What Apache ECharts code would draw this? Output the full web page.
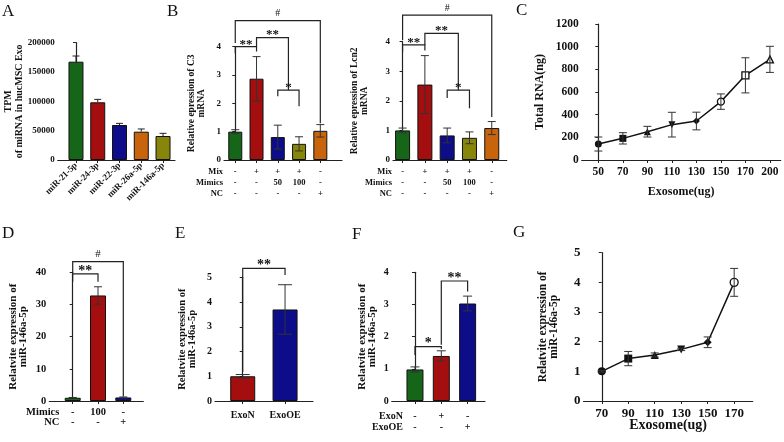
<!DOCTYPE html>
<html>
<head>
<meta charset="utf-8">
<script src="https://cdn.jsdelivr.net/npm/echarts@6/dist/echarts.min.js"></script>
<style>
  html, body { margin: 0; padding: 0; background: #fff; }
  #main { width: 784px; height: 442px; }
</style>
</head>
<body>
<div id="main"></div>
<script>
// ---- data ----
// A
const aCats = ['miR-21-5p', 'miR-24-3p', 'miR-22-3p', 'miR-26a-5p', 'miR-146a-5p'];
const aMean = [167600, 98400, 59700, 48300, 40900];
const aSd = [9700, 5000, 2800, 4600, 4600];
// B
const bMix = ['-', '+', '+', '+', '-'];
const bMimics = ['-', '-', '50', '100', '-'];
const bNC = ['-', '-', '-', '-', '+'];
const c3Mean = [1.0, 2.87, 0.81, 0.57, 1.03];
const c3Sd = [0.07, 0.78, 0.42, 0.25, 0.22];
const lcn2Mean = [1.0, 2.55, 0.83, 0.75, 1.08];
const lcn2Sd = [0.08, 0.98, 0.25, 0.2, 0.22];
// C
const cDose = ['50', '70', '90', '110', '130', '150', '170', '200'];
const cRna = [141, 191, 250, 312, 344, 515, 747, 888];
const cSd = [62, 50, 47, 109, 78, 68, 155, 115];
// D
const dMimics = ['-', '100', '-'];
const dNC = ['-', '-', '+'];
const dMean = [1.0, 32.8, 1.1];
const dSd = [0.1, 2.7, 0.15];
// E
const eCats = ['ExoN', 'ExoOE'];
const eMean = [1.0, 3.7];
const eSd = [0.07, 1.0];
// F
const fExoN = ['-', '+', '-'];
const fExoOE = ['-', '-', '+'];
const fMean = [0.98, 1.4, 3.03];
const fSd = [0.08, 0.16, 0.23];
// G
const gDose = ['70', '90', '110', '130', '150', '170'];
const gMean = [1.0, 1.43, 1.55, 1.74, 1.98, 4.0];
const gSd = [0.03, 0.24, 0.07, 0.04, 0.18, 0.47];

// significance brackets: [x1, x2, top, leftEnd, rightEnd, text]
const c3Brackets = [
  [0, 4, 4.92, 4.13, 1.3, '#'],
  [0, 1, 4.0, 3.77, 3.83, '**'],
  [1, 2.5, 4.32, 4.0, 2.47, '**'],
  [2, 3, 2.47, 2.25, 1.9, '*']
];
const lcn2Brackets = [
  [0, 4, 4.9, 4.05, 1.45, '#'],
  [0, 1, 3.89, 3.65, 3.7, '**'],
  [1, 2.5, 4.28, 3.89, 2.36, '**'],
  [2, 3, 2.36, 2.1, 1.75, '*']
];
const dBrackets = [
  [0, 2, 43.3, 39.8, 1.4, '#'],
  [0, 1, 39.5, 37.1, 37.1, '**']
];
const eBrackets = [[0, 1, 5.36, 1.18, 5.09, '**']];
const fBrackets = [
  [0, 1, 1.69, 1.43, 1.62, '*'],
  [1, 2, 3.73, 1.75, 3.4, '**']
];

const colA = ['#16661a', '#a50e0e', '#0d0d8a', '#c8650c', '#87850a'];
const colB = ['#16661a', '#a50e0e', '#0d0d8a', '#87850a', '#c8650c'];
const FONT = '"Liberation Serif", "Times New Roman", serif';

const chart = echarts.init(document.getElementById('main'), null, { renderer: 'canvas' });

const grids = [], xAxes = [], yAxes = [], series = [];

function panel(box, x, y) {
  const idx = grids.length;
  grids.push({ left: box[0], top: box[1], width: box[2], height: box[3], containLabel: false });
  const ticks = x.labels.map((_, i) => i);
  xAxes.push(Object.assign({
    type: 'value', gridIndex: idx, min: x.min, max: x.max,
    nameMoveOverlap: false,
    splitLine: { show: false },
    axisLine: { lineStyle: { color: '#222', width: 1.2 } },
    axisTick: { customValues: ticks, length: 3, lineStyle: { color: '#222' } },
    axisLabel: {
      customValues: ticks, margin: x.margin, rotate: x.rotate || 0,
      fontFamily: FONT, fontWeight: 'bold', fontSize: x.fs, color: '#111',
      lineHeight: x.lh || x.fs,
      formatter: v => x.labels[Math.round(v)]
    }
  }, x.extra || {}));
  yAxes.push({
    type: 'value', gridIndex: idx, min: 0, max: y.max, interval: y.interval,
    nameMoveOverlap: false,
    splitLine: { show: false },
    axisLine: { show: true, lineStyle: { color: '#222', width: 1.2 } },
    axisTick: { show: true, length: 3, lineStyle: { color: '#222' } },
    axisLabel: { fontFamily: FONT, fontWeight: 'bold', fontSize: y.fs, color: '#111', margin: 3, formatter: v => String(v) },
    name: y.name, nameLocation: 'middle', nameGap: y.gap,
    nameTextStyle: { fontFamily: FONT, fontWeight: 'bold', fontSize: y.nfs, color: '#111', lineHeight: y.nlh }
  });
  return idx;
}

function bars(idx, mean, colors, width) {
  series.push({
    type: 'bar', xAxisIndex: idx, yAxisIndex: idx, barWidth: width,
    data: mean.map((v, i) => ({ value: [i, v], itemStyle: { color: colors[i] } })),
    itemStyle: { borderColor: '#111', borderWidth: 1 },
    silent: true
  });
}

// error bars: mean +/- sd (or mean + sd only)
function errors(idx, mean, sd, cap, upOnly, color) {
  series.push({
    type: 'custom', xAxisIndex: idx, yAxisIndex: idx, z: 5, silent: true, clip: false,
    data: mean.map((v, i) => [i, v]),
    renderItem(params, api) {
      const i = params.dataIndex;
      const m = mean[i], s = sd[i];
      const top = api.coord([i, m + s]);
      const bot = api.coord([i, upOnly ? m : m - s]);
      const w = cap / 2;
      const st = { stroke: color || '#222', lineWidth: 1 };
      const kids = [
        { type: 'line', shape: { x1: top[0], y1: top[1], x2: bot[0], y2: bot[1] }, style: st },
        { type: 'line', shape: { x1: top[0] - w, y1: top[1], x2: top[0] + w, y2: top[1] }, style: st }
      ];
      if (!upOnly) kids.push({ type: 'line', shape: { x1: bot[0] - w, y1: bot[1], x2: bot[0] + w, y2: bot[1] }, style: st });
      return { type: 'group', children: kids };
    }
  });
}

function brackets(idx, list, fs) {
  series.push({
    type: 'custom', xAxisIndex: idx, yAxisIndex: idx, z: 6, silent: true, clip: false,
    data: list.map(b => [b[0], b[2]]),
    renderItem(params, api) {
      const b = list[params.dataIndex];
      const pL = api.coord([b[0], b[2]]), pR = api.coord([b[1], b[2]]);
      const pLb = api.coord([b[0], b[3]]), pRb = api.coord([b[1], b[4]]);
      const star = b[5] !== '#';
      return {
        type: 'group', children: [
          { type: 'polyline', shape: { points: [pLb, pL, pR, pRb] }, style: { stroke: '#222', fill: null, lineWidth: 1.2 } },
          {
            type: 'text', x: (pL[0] + pR[0]) / 2, y: pL[1] + (star ? 4 : -2),
            style: {
              text: b[5], textAlign: 'center', textVerticalAlign: 'bottom',
              font: (star ? 'bold ' + fs + 'px ' : (fs - 3) + 'px ') + FONT, fill: '#111'
            }
          }
        ]
      };
    }
  });
}

function line(idx, vals, sd, symbols, size) {
  series.push({
    type: 'line', xAxisIndex: idx, yAxisIndex: idx, z: 4, silent: true,
    lineStyle: { color: '#111', width: 1.5 },
    symbolSize: size,
    data: vals.map((v, i) => {
      const s = symbols[i];
      const open = s.indexOf('empty') === 0;
      let sym = open ? s.slice(5).toLowerCase() : s;
      const down = sym === 'triangleDown';
      if (down) sym = 'triangle';
      return {
        value: [i, v], symbol: sym, symbolRotate: down ? 180 : 0,
        itemStyle: { color: open ? '#fff' : '#111', borderColor: '#111', borderWidth: open ? 1.3 : 0 }
      };
    })
  });
  errors(idx, vals, sd, 8, false, '#333');
}

const yName2 = 'Relatvite expression of\nmiR-146a-5p';

// A
let p = panel([57.7, 42.7, 117.3, 117.3],
  { labels: aCats, min: -0.84, max: 4.55, fs: 9, margin: 4, rotate: 45 },
  { max: 200000, interval: 50000, fs: 9, name: 'TPM\nof miRNA in hucMSC Exo', gap: 33, nfs: 10, nlh: 11 });
bars(p, aMean, colA, 15);
errors(p, aMean, aSd, 7, true, '#222');

// B left
const tableB = bMix.map((m, i) => m + '\n' + bMimics[i] + '\n' + bNC[i]);
const tableBName = {
  name: 'Mix\nMimics\nNC', nameLocation: 'start', nameGap: 1,
  nameTextStyle: { fontFamily: FONT, fontWeight: 'bold', fontSize: 8.5, color: '#111', align: 'right', verticalAlign: 'top', lineHeight: 11.3, padding: [6, 0, 0, 0] }
};
p = panel([224, 46.7, 118, 113.3],
  { labels: tableB, min: -0.53, max: 5.02, fs: 8.5, lh: 11.3, margin: 6, extra: tableBName },
  { max: 4, interval: 1, fs: 9, name: 'Relative epression of C3\nmRNA', gap: 17.5, nfs: 9.5, nlh: 10 });
bars(p, c3Mean, colB, 14);
errors(p, c3Mean, c3Sd, 8, false, '#333');
brackets(p, c3Brackets, 13);

// B right
p = panel([393, 41.7, 113.7, 118.3],
  { labels: tableB, min: -0.43, max: 4.67, fs: 8.5, lh: 11.3, margin: 6, extra: tableBName },
  { max: 4, interval: 1, fs: 9, name: 'Relative epression of Lcn2\nmRNA', gap: 23, nfs: 9.5, nlh: 10 });
bars(p, lcn2Mean, colB, 15);
errors(p, lcn2Mean, lcn2Sd, 8, false, '#333');
brackets(p, lcn2Brackets, 13);

// C
p = panel([581.7, 24, 199, 136],
  { labels: cDose, min: -0.68, max: 7.44, fs: 11.5, margin: 6,
    extra: { name: 'Exosome(ug)', nameLocation: 'middle', nameGap: 26,
      nameTextStyle: { fontFamily: FONT, fontWeight: 'bold', fontSize: 12, color: '#111' } } },
  { max: 1200, interval: 200, fs: 11.5, name: 'Total RNA(ng)', gap: 36, nfs: 12, nlh: 12 });
line(p, cRna, cSd, ['circle', 'rect', 'triangle', 'triangleDown', 'diamond', 'emptyCircle', 'emptyRect', 'emptyTriangle'], 7);

// D
p = panel([49.3, 272.3, 94, 128.7],
  { labels: dMimics.map((m, i) => m + '\n' + dNC[i]), min: -0.925, max: 2.79, fs: 10.5, lh: 10, margin: 6.7,
    extra: { name: 'Mimics\nNC', nameLocation: 'start', nameGap: -10,
      nameTextStyle: { fontFamily: FONT, fontWeight: 'bold', fontSize: 10.5, color: '#111', align: 'right', verticalAlign: 'top', lineHeight: 10, padding: [6.7, 0, 0, 0] } } },
  { max: 40, interval: 10, fs: 10.5, name: yName2, gap: 21, nfs: 11, nlh: 10 });
bars(p, dMean, colA.slice(0, 3), 16);
errors(p, dMean, dSd, 8, false, '#333');
brackets(p, dBrackets, 14);

// E
p = panel([215, 277.3, 98, 123.7],
  { labels: eCats, min: -0.655, max: 1.66, fs: 10, margin: 9 },
  { max: 5, interval: 1, fs: 10, name: yName2, gap: 17.5, nfs: 10.5, nlh: 10 });
bars(p, eMean, colA.slice(1, 3), 25);
errors(p, eMean, eSd, 14, false, '#333');
brackets(p, eBrackets, 14);

// F
p = panel([391.7, 272.3, 93.3, 128.7],
  { labels: fExoN.map((m, i) => m + '\n' + fExoOE[i]), min: -0.884, max: 2.66, fs: 10, lh: 10.6, margin: 10.4,
    extra: { name: 'ExoN\nExoOE', nameLocation: 'start', nameGap: -11.3,
      nameTextStyle: { fontFamily: FONT, fontWeight: 'bold', fontSize: 10, color: '#111', align: 'right', verticalAlign: 'top', lineHeight: 10.6, padding: [10.4, 0, 0, 0] } } },
  { max: 4, interval: 1, fs: 10, name: yName2, gap: 15, nfs: 11, nlh: 10 });
bars(p, fMean, colA.slice(0, 3), 17);
errors(p, fMean, fSd, 9, false, '#333');
brackets(p, fBrackets, 14);

// G
p = panel([583.5, 252.7, 169.2, 148.3],
  { labels: gDose, min: -0.69, max: 5.7, fs: 13, margin: 6,
    extra: { name: 'Exosome(ug)', nameLocation: 'middle', nameGap: 17.7,
      nameTextStyle: { fontFamily: FONT, fontWeight: 'bold', fontSize: 14, color: '#111' } } },
  { max: 5, interval: 1, fs: 13, name: yName2, gap: 24, nfs: 11.5, nlh: 11 });
line(p, gMean, gSd, ['circle', 'rect', 'triangle', 'triangleDown', 'diamond', 'emptyCircle'], 8);

const letters = [['A', 2, 3], ['B', 167, 3], ['C', 516, 2], ['D', 2, 225], ['E', 175, 225], ['F', 352, 226], ['G', 513, 224]];

chart.setOption({
  animation: false,
  backgroundColor: '#fff',
  title: letters.map(l => ({
    text: l[0], left: l[1], top: l[2], padding: 0,
    textStyle: { fontFamily: FONT, fontWeight: 'normal', fontSize: 17, color: '#111' }
  })),
  grid: grids,
  xAxis: xAxes,
  yAxis: yAxes,
  series: series
});
</script>
</body>
</html>
